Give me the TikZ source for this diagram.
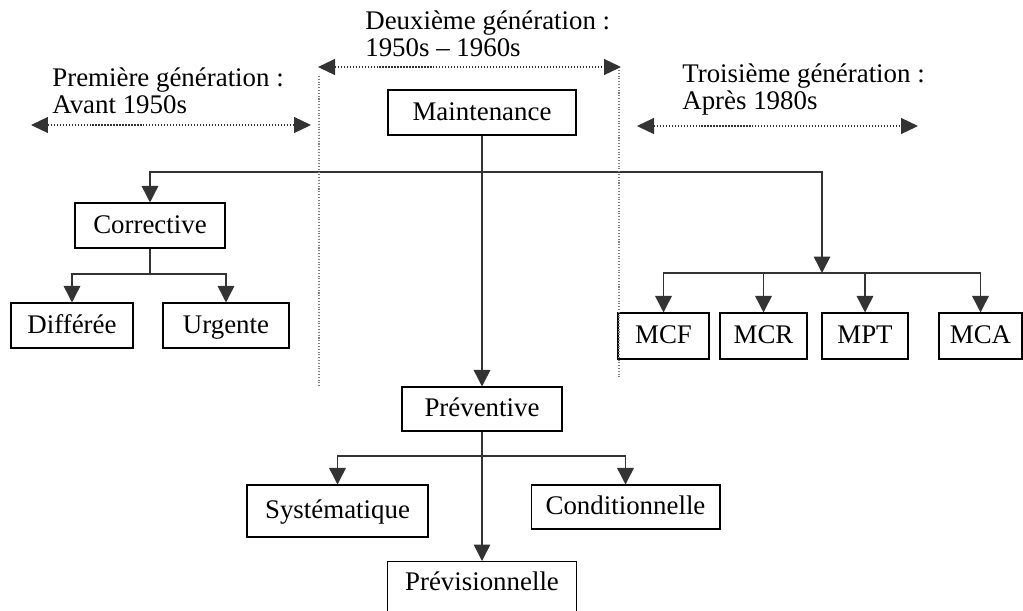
\documentclass[tikz,border=0pt]{standalone}
\usepackage{fontspec}
\setmainfont{Liberation Serif}
\usetikzlibrary{arrows.meta}

\tikzset{
    box/.style={draw, line width=0.6pt, minimum height=9mm, inner sep=0pt, text height=4.2mm, text depth=1.2mm, font=\fontsize{15.3}{18}\selectfont},
    link/.style={draw=black!80, line width=0.85pt},
    linkarrow/.style={link, -{Triangle[width=3.3mm, length=3.3mm]}},
    span/.style={draw=black!80, densely dotted, line width=0.7pt, {Triangle[width=3.2mm, length=3.4mm]}-{Triangle[width=3.2mm, length=3.4mm]}},
    divider/.style={draw=black!50, densely dotted, line width=0.6pt},
    era/.style={align=left, anchor=west, inner sep=0pt, font=\fontsize{15.3}{15.3}\selectfont}
}

\begin{document}
\begin{tikzpicture}[x=0.02cm, y=-0.02cm]
            \useasboundingbox (0, 0) rectangle (1023, 610);

            \node[box, minimum width=37.6mm] (maint) at (482, 112.5) {Maintenance};

            \node[box, minimum width=30mm] (corr) at (150, 225.5) {Corrective};

            \node[box, minimum width=24.4mm] (diff) at (72, 325.5) {Différée};

            \node[box, minimum width=25.2mm] (urg) at (226, 325.5) {Urgente};

            \node[box, minimum width=18.2mm, minimum height=9.2mm] (mcf) at (663.5, 336) {MCF};

            \node[box, minimum width=17.4mm, minimum height=9.2mm] (mcr) at (763.5, 336) {MCR};

            \node[box, minimum width=17.2mm, minimum height=9.2mm] (mpt) at (865, 336) {MPT};

            \node[box, minimum width=16.6mm, minimum height=9.2mm] (mca) at (980.5, 336) {MCA};

            \node[box, minimum width=32mm, minimum height=8.8mm] (prev) at (482, 409) {Préventive};

            \node[box, minimum width=36.2mm, minimum height=10.4mm] (syst) at (337.5, 511) {Systématique};

            \node[box, minimum width=37.8mm, minimum height=8.8mm] (cond) at (625.5, 507) {Conditionnelle};

            \node[box, anchor=north, minimum width=37.8mm, text height=5.8mm, text depth=6mm] (previs) at (482, 561) {Prévisionnelle};

            \coordinate (jtop) at (482, 172);

            \coordinate (jright) at (822, 273);

            \coordinate (jcorr) at (150, 274);

            \coordinate (jprev) at (482, 456);

            \draw[linkarrow] (maint.south) -- (prev.north);

            \draw[linkarrow] (jtop) -| (corr.north);

            \draw[linkarrow] (jtop) -| (jright);

            \draw[link] (corr.south) -- (jcorr);

            \draw[linkarrow] (jcorr) -| (diff.north);

            \draw[linkarrow] (jcorr) -| (urg.north);

            \draw[linkarrow] (jright) -| (mcf.north);

            \draw[linkarrow] (jright) -| (mcr.north);

            \draw[linkarrow] (jright) -| (mpt.north);

            \draw[linkarrow] (jright) -| (mca.north);

            \draw[linkarrow] (prev.south) -- (previs.north);

            \draw[linkarrow] (jprev) -| (syst.north);

            \draw[linkarrow] (jprev) -| (cond.north);

            \coordinate (firstL) at (31, 125);

            \coordinate (firstR) at (311, 125);

            \coordinate (secondL) at (318, 67);

            \coordinate (secondR) at (621, 67);

            \coordinate (thirdL) at (637, 126);

            \coordinate (thirdR) at (918, 126);

            \draw[span] (firstL) -- (firstR);

            \draw[span] (secondL) -- (secondR);

            \draw[span] (thirdL) -- (thirdR);

            \draw[divider] (319, 76) -- (319, 386);

            \draw[divider] (619, 70) -- (619, 378);

            \node[era] (first) at (52, 91) {Première génération :\\Avant 1950s};

            \node[era] (second) at (365, 34) {Deuxième génération :\\1950s – 1960s};

            \node[era] (third) at (682, 89.5) {Troisième génération :\\Après 1980s};
        \end{tikzpicture}
\end{document}
